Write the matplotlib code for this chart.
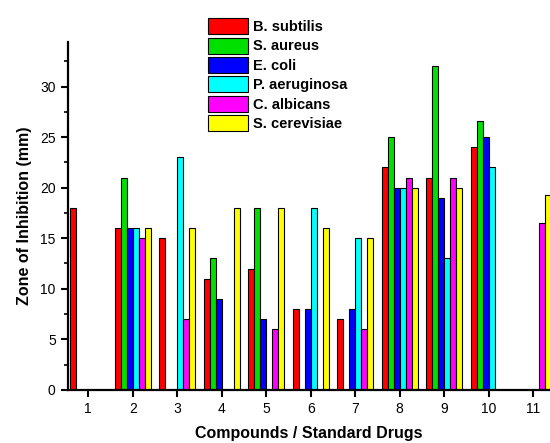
import matplotlib.pyplot as plt
import numpy as np

plt.rcParams['font.family'] = ['Liberation Sans', 'DejaVu Sans']

# compounds / standard drugs on the x axis
compounds = [1, 2, 3, 4, 5, 6, 7, 8, 9, 10, 11]

# zone of inhibition (mm) for each organism
b_subtilis = [18, 16, 15, 11, 12, 8, 7, 22, 21, 24, 0]
s_aureus = [0, 21, 0, 13, 18, 0, 0, 25, 32, 26.6, 0]
e_coli = [0, 16, 0, 9, 7, 8, 8, 20, 19, 25, 0]
p_aeruginosa = [0, 16, 23, 0, 0, 18, 15, 20, 13, 22, 0]
c_albicans = [0, 15, 7, 0, 6, 0, 6, 21, 21, 0, 16.5]
s_cerevisiae = [0, 16, 16, 18, 18, 16, 15, 20, 20, 0, 19.3]

names = ['B. subtilis', 'S. aureus', 'E. coli', 'P. aeruginosa',
         'C. albicans', 'S. cerevisiae']
series = [b_subtilis, s_aureus, e_coli, p_aeruginosa, c_albicans, s_cerevisiae]
colors = ['#ff0000', '#00e000', '#0000ff', '#00ffff', '#ff00ff', '#ffff00']

fig = plt.figure(figsize=(5.5, 4.43), dpi=100)
ax = fig.add_axes([0.124, 0.12, 0.876, 0.785])

x = np.array(compounds)
w = 0.135
for i, (vals, name, c) in enumerate(zip(series, names, colors)):
    ax.bar(x + (i - 2.5) * w, vals, width=w, color=c, edgecolor='black',
           linewidth=0.8, label=name)

ax.set_xlim(0.55, 11.38)
ax.set_ylim(0, 34.4)
ax.set_xticks(compounds)
ax.set_yticks([0, 5, 10, 15, 20, 25, 30])
ax.set_yticks(np.arange(0, 34, 2.5), minor=True)

ax.spines['top'].set_visible(False)
ax.spines['right'].set_visible(False)
ax.spines['left'].set_linewidth(1.6)
ax.spines['bottom'].set_linewidth(1.6)
ax.tick_params(axis='both', which='major', direction='out', length=5,
               width=1.5, labelsize=10, pad=4)
ax.tick_params(axis='y', which='minor', direction='out', length=3, width=1.2)

ax.set_xlabel('Compounds / Standard Drugs', fontsize=11.5, fontweight='bold',
              labelpad=7)
ax.set_ylabel('Zone of Inhibition (mm)', fontsize=11.5, fontweight='bold',
              labelpad=6)

fig.legend(loc='upper left', bbox_to_anchor=(0.368, 0.972), frameon=False,
           prop={'weight': 'bold', 'size': 10.5}, handlelength=2.75,
           handleheight=1.3, labelspacing=0.24, handletextpad=0.35,
           borderaxespad=0)

fig.savefig('out.png', dpi=100)
